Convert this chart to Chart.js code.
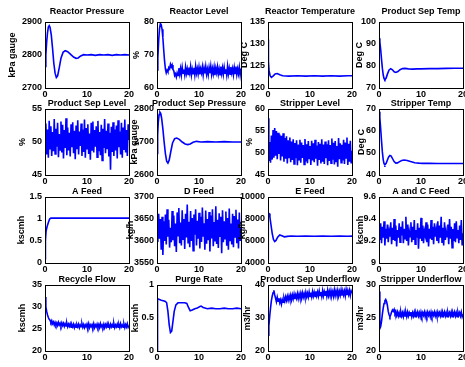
<!DOCTYPE html>
<html>
<head>
<meta charset="utf-8">
<script src="https://cdn.jsdelivr.net/npm/chart.js@4.4.1/dist/chart.umd.min.js"></script>
<style>
  body { margin: 0; background: #fff; overflow: hidden; }
  #wrap { position: relative; width: 465px; height: 367px; overflow: hidden; }
  #wrap canvas { position: absolute; left: 0; top: 0; }
</style>
</head>
<body>
<div id="wrap"></div>
<script>
// Eixo do tempo (h) e ticks
const xTicks = [0, 10, 20];
const tFine = Array.from({ length: 101 }, (_, i) => Math.round(i * 2) / 10); // grade de 0.2 h

// --- Linha 1 ---
const tReactorPressure = [0, 0.2, 0.4, 0.6, 0.8, 1.0, 1.2, 1.5, 1.8, 2.1, 2.4, 2.7, 3.0, 3.4, 3.8, 4.3, 4.8, 5.4, 6.1, 6.8,
  7.4, 7.9, 8.5, 9.2, 10, 11, 12, 13, 14, 15, 16, 17, 18, 19, 20];
const reactorPressure = [2765, 2800, 2840, 2868, 2885, 2889, 2884, 2860, 2820, 2775, 2745, 2732, 2737, 2762, 2790, 2808, 2813, 2810, 2802, 2794,
  2790, 2791, 2797, 2801, 2800, 2801, 2799, 2801, 2800, 2801, 2799, 2801, 2800, 2801, 2800];
const ticksReactorPressure = [2700, 2800, 2900];

const reactorLevel = [
  65.5, 69.0, 74.5, 78.0, 79.5, 79.2, 77.8, 75.2, 71.5, 68.2,
  65.8, 64.6, 65.4, 64.9, 66.2, 65.8, 67.2, 66.4, 67.0, 65.6,
  65.2, 63.8, 64.3, 63.3, 64.6, 63.8, 66.0, 64.2, 65.9, 63.9,
  66.3, 64.5, 65.6, 64.0, 66.4, 64.4, 65.8, 64.1, 66.2, 64.6,
  66.5, 63.9, 65.7, 64.3, 66.1, 64.0, 66.6, 64.5, 65.9, 64.2,
  66.3, 64.1, 65.8, 64.6, 66.4, 63.9, 66.0, 64.4, 66.5, 64.2,
  65.7, 64.0, 66.2, 64.5, 66.6, 64.1, 65.9, 64.3, 66.3, 63.9,
  66.0, 64.6, 66.4, 64.2, 65.8, 64.0, 66.5, 64.4, 66.1, 64.1,
  66.3, 64.5, 65.7, 63.9, 66.6, 64.3, 66.0, 64.2, 66.4, 64.6,
  65.9, 64.0, 66.2, 64.4, 66.5, 64.1, 65.8, 64.3, 66.3, 64.0,
  65.9];
const ticksReactorLevel = [60, 70, 80];

const tReactorTemp = [0, 0.1, 0.25, 0.5, 0.8, 1.2, 1.7, 2.2, 2.8, 3.5, 5, 7, 9, 11, 13, 15, 17, 19, 20];
const reactorTemp = [131, 126, 124, 122.8, 122.4, 122.7, 123.2, 123.3, 123.0, 122.8, 122.7, 122.8, 122.7, 122.8, 122.7, 122.8, 122.7, 122.8, 122.8];
const ticksReactorTemp = [120, 125, 130, 135];

const tSepTemp = [0, 0.2, 0.4, 0.6, 0.8, 1.0, 1.2, 1.4, 1.7, 2.0, 2.4, 2.8, 3.2, 3.6, 4.0, 4.5, 5.0, 5.6, 6.2, 7, 8, 9, 10, 12, 14, 16, 18, 20];
const sepTemp = [92.6, 91, 87.5, 83, 79, 76, 74.3, 73.8, 74.5, 76.3, 78.2, 78.8, 78.3, 77.4, 77.1, 77.5, 78.3, 78.8, 78.9, 78.7, 78.6, 78.7, 78.7, 78.8, 78.8, 78.9, 79, 79];
const ticksSepTemp = [70, 80, 90, 100];

// --- Linha 2 ---
const sepLevel = [
  50.4, 52.8, 48.1, 51.9, 47.6, 53.2, 49.0, 52.4, 47.9, 51.5,
  48.6, 53.5, 48.2, 52.0, 49.3, 52.9, 47.7, 51.2, 48.8, 53.1,
  48.4, 52.6, 47.5, 51.8, 49.1, 53.6, 48.0, 52.2, 48.7, 51.4,
  47.8, 52.7, 49.2, 53.0, 48.3, 51.7, 47.4, 52.5, 48.9, 53.3,
  48.1, 51.6, 49.4, 52.8, 47.9, 51.9, 48.5, 53.4, 47.6, 52.1,
  49.0, 52.7, 48.2, 51.3, 47.3, 52.9, 48.8, 53.1, 48.4, 51.8,
  49.3, 52.4, 47.7, 53.2, 48.6, 51.5, 48.0, 52.6, 47.2, 52.0,
  49.1, 53.5, 48.3, 51.7, 48.9, 52.8, 47.8, 51.4, 45.8, 52.3,
  48.5, 53.0, 47.9, 51.9, 48.7, 52.5, 47.5, 53.3, 49.2, 51.6,
  48.1, 52.9, 47.6, 52.2, 48.8, 53.4, 48.4, 51.8, 47.9, 52.7,
  50.3];
const ticksSepLevel = [45, 50, 55];

const tSepPressure = [0, 0.15, 0.3, 0.5, 0.7, 0.9, 1.1, 1.4, 1.7, 2.0, 2.3, 2.6, 2.9, 3.3, 3.7, 4.2, 4.7, 5.3, 6.0, 6.7,
  7.3, 7.9, 8.6, 9.4, 10.5, 12, 14, 16, 18, 20];
const sepPressure = [2665, 2720, 2760, 2783, 2790, 2786, 2772, 2740, 2700, 2665, 2642, 2636, 2645, 2672, 2697, 2710, 2712, 2708, 2700, 2694,
  2692, 2694, 2699, 2702, 2700, 2701, 2700, 2701, 2700, 2700];
const ticksSepPressure = [2600, 2700, 2800];

const stripLevel = [
  57.9, 48.2, 52.5, 47.8, 54.0, 48.5, 55.2, 48.9, 55.7, 49.4,
  55.0, 48.6, 54.6, 49.8, 54.2, 48.3, 53.9, 49.2, 54.5, 48.0,
  53.4, 48.7, 53.8, 47.6, 52.9, 49.0, 53.5, 47.9, 52.6, 48.4,
  53.1, 47.5, 52.3, 48.8, 52.9, 47.2, 51.9, 48.5, 53.0, 47.8,
  52.4, 48.9, 51.8, 47.4, 53.2, 48.1, 52.0, 47.7, 52.7, 48.6,
  51.6, 47.3, 52.8, 48.3, 52.2, 47.9, 53.0, 48.7, 51.7, 47.1,
  52.5, 48.4, 52.1, 47.6, 53.1, 48.0, 51.9, 47.5, 52.6, 48.8,
  52.0, 47.2, 52.9, 48.2, 51.8, 47.7, 53.3, 48.5, 52.3, 47.4,
  52.7, 48.1, 51.6, 46.9, 53.4, 48.6, 52.2, 47.8, 51.9, 48.3,
  53.0, 47.5, 52.4, 48.9, 53.5, 47.3, 52.1, 48.0, 52.8, 47.6,
  50.5];
const ticksStripLevel = [45, 50, 55, 60];

const tStripTemp = [0, 0.2, 0.4, 0.6, 0.8, 1.0, 1.2, 1.4, 1.7, 2.0, 2.3, 2.6, 2.9, 3.2, 3.6, 4.0, 4.4, 4.9, 5.4, 6.0,
  6.7, 7.5, 8.5, 9.5, 10.5, 12, 14, 16, 18, 20];
const stripTemp = [68.8, 66, 61, 55.5, 50.5, 47, 45.1, 44.6, 45.3, 46.8, 48.2, 48.9, 48.6, 47.5, 46.1, 45.4, 45.5, 46.1, 46.6, 46.8,
  46.6, 46.1, 45.6, 45.4, 45.3, 45.3, 45.2, 45.2, 45.2, 45.2];
const ticksStripTemp = [40, 50, 60, 70];

// --- Linha 3 ---
const tAFeed = [0, 0.1, 0.25, 0.5, 0.8, 1.1, 1.4, 2, 4, 8, 12, 16, 20];
const aFeed = [0.1, 0.5, 0.72, 0.83, 0.92, 1.0, 1.02, 1.02, 1.02, 1.02, 1.02, 1.02, 1.02];
const ticksAFeed = [0, 0.5, 1, 1.5];

const dFeed = [
  3640, 3598, 3662, 3605, 3650, 3580, 3655, 3568, 3645, 3600,
  3660, 3592, 3672, 3610, 3648, 3585, 3630, 3597, 3668, 3602,
  3658, 3588, 3640, 3575, 3665, 3612, 3675, 3595, 3642, 3590,
  3670, 3604, 3650, 3582, 3662, 3608, 3683, 3596, 3644, 3586,
  3668, 3600, 3652, 3578, 3660, 3614, 3672, 3590, 3646, 3605,
  3664, 3583, 3655, 3598, 3676, 3610, 3640, 3580, 3669, 3594,
  3650, 3602, 3666, 3576, 3658, 3606, 3672, 3588, 3643, 3599,
  3679, 3593, 3648, 3584, 3663, 3611, 3655, 3572, 3670, 3597,
  3645, 3605, 3667, 3589, 3652, 3580, 3674, 3601, 3640, 3592,
  3662, 3586, 3657, 3609, 3671, 3595, 3649, 3583, 3665, 3600,
  3630];
const ticksDFeed = [3550, 3600, 3650, 3700];

const tEFeed = [0, 0.03, 0.1, 0.25, 0.45, 0.7, 1.0, 1.3, 1.6, 1.9, 2.3, 2.8, 3.3, 3.9, 4.6, 5.5, 7, 9, 11, 13, 15, 17, 19, 20];
const eFeed = [4300, 7500, 8550, 8500, 8200, 7500, 6700, 6150, 5950, 6050, 6350, 6550, 6480, 6380, 6420, 6450, 6430, 6440, 6430, 6440, 6430, 6440, 6430, 6440];
const ticksEFeed = [4000, 6000, 8000, 10000];

const acFeed = [
  9.30, 9.21, 9.36, 9.18, 9.33, 9.23, 9.38, 9.16, 9.31, 9.22,
  9.35, 9.19, 9.29, 9.24, 9.37, 9.17, 9.32, 9.21, 9.40, 9.20,
  9.34, 9.15, 9.30, 9.23, 9.36, 9.19, 9.33, 9.25, 9.38, 9.18,
  9.31, 9.22, 9.42, 9.20, 9.35, 9.16, 9.29, 9.24, 9.37, 9.19,
  9.33, 9.21, 9.39, 9.17, 9.30, 9.23, 9.36, 9.13, 9.32, 9.22,
  9.41, 9.20, 9.34, 9.18, 9.29, 9.25, 9.37, 9.19, 9.35, 9.15,
  9.31, 9.22, 9.39, 9.21, 9.33, 9.17, 9.36, 9.24, 9.30, 9.20,
  9.38, 9.18, 9.34, 9.23, 9.42, 9.19, 9.32, 9.16, 9.37, 9.21,
  9.29, 9.24, 9.35, 9.17, 9.40, 9.22, 9.33, 9.14, 9.31, 9.20,
  9.36, 9.19, 9.38, 9.23, 9.30, 9.18, 9.34, 9.21, 9.39, 9.16,
  9.27];
const ticksACFeed = [9, 9.2, 9.4, 9.6];

// --- Linha 4 ---
const recycleFlow = [
  32.3, 30.0, 29.0, 28.2, 27.6, 27.2, 27.0, 26.5, 26.9, 26.2,
  26.6, 25.9, 26.5, 25.9, 26.4, 25.8, 26.5, 25.9, 26.3, 25.7,
  26.4, 25.8, 26.3, 25.6, 26.2, 25.7, 26.3, 25.5, 26.1, 25.6,
  26.2, 25.4, 26.0, 25.5, 26.1, 25.3, 25.9, 25.4, 26.0, 25.5,
  26.1, 25.3, 25.9, 25.5, 26.2, 25.4, 26.0, 25.3, 25.9, 25.5,
  26.1, 25.4, 26.2, 25.3, 25.9, 25.5, 26.0, 25.4, 26.2, 25.3,
  25.9, 25.5, 26.1, 25.4, 26.0, 25.3, 26.2, 25.5, 25.9, 25.4,
  26.1, 25.3, 26.0, 25.5, 26.2, 25.4, 25.9, 25.3, 26.1, 25.5,
  26.0, 25.4, 26.2, 25.3, 25.9, 25.5, 26.1, 25.4, 26.0, 25.3,
  26.2, 25.5, 25.9, 25.4, 26.1, 25.3, 26.0, 25.5, 26.2, 25.4,
  25.8];
const ticksRecycle = [20, 25, 30, 35];

const tPurge = [0, 0.05, 0.2, 0.6, 1.0, 1.5, 2.0, 2.3, 2.6, 2.9, 3.2, 3.5, 3.8, 4.1, 4.5, 5.0, 5.5, 6.0, 6.6, 7.1,
  7.5, 7.9, 8.4, 9.0, 9.6, 10.1, 10.5, 11.0, 12, 13, 14, 15, 16, 17, 18, 19, 20];
const purgeRate = [0.0, 0.78, 0.79, 0.78, 0.77, 0.76, 0.75, 0.73, 0.6, 0.4, 0.28, 0.3, 0.45, 0.6, 0.7, 0.73, 0.73, 0.73, 0.73, 0.72,
  0.66, 0.61, 0.62, 0.64, 0.65, 0.67, 0.68, 0.66, 0.64, 0.65, 0.64, 0.64, 0.65, 0.64, 0.64, 0.65, 0.64];
const ticksPurge = [0, 0.5, 1];

const sepUnderflow = [
  24.8, 27.5, 30.5, 33.0, 35.2, 36.6, 37.6, 38.4, 37.0, 36.0,
  34.9, 36.3, 35.1, 36.0, 34.6, 35.5, 34.2, 35.6, 34.8, 36.1,
  35.1, 36.4, 35.3, 36.6, 35.4, 36.7, 35.6, 36.9, 35.5, 37.0,
  35.8, 37.2, 35.7, 37.0, 36.0, 37.4, 35.9, 37.3, 36.1, 37.5,
  36.0, 37.6, 36.3, 37.4, 36.2, 37.8, 36.4, 37.5, 36.3, 37.9,
  36.5, 37.7, 36.4, 38.0, 36.6, 37.8, 36.5, 38.1, 36.7, 37.9,
  36.6, 38.2, 36.8, 37.9, 36.5, 38.3, 36.7, 38.0, 36.9, 38.2,
  36.6, 38.4, 36.8, 38.1, 36.7, 38.3, 36.9, 38.0, 36.6, 38.5,
  36.8, 38.2, 37.0, 38.4, 36.7, 38.1, 36.9, 38.5, 36.8, 38.3,
  37.0, 38.2, 36.7, 38.6, 36.9, 38.3, 37.1, 38.4, 36.8, 38.2,
  37.5];
const ticksSepUnder = [20, 30, 40];

const stripUnderflow = [
  29.0, 23.4, 23.7, 24.5, 25.6, 26.5, 27.2, 27.6, 27.8, 27.5,
  26.9, 26.0, 25.5, 25.2, 25.5, 25.9, 26.2, 26.0, 26.3, 25.7,
  26.0, 25.4, 25.9, 25.3, 25.8, 25.2, 25.9, 25.3, 25.8, 25.2,
  25.9, 25.3, 25.8, 25.2, 25.9, 25.3, 25.8, 25.4, 25.9, 25.2,
  25.8, 25.3, 25.9, 25.2, 25.8, 25.4, 25.9, 25.3, 25.8, 25.2,
  25.9, 25.3, 25.8, 25.4, 25.9, 25.2, 25.8, 25.3, 25.9, 25.4,
  25.8, 25.2, 25.9, 25.3, 25.8, 25.4, 25.9, 25.3, 25.8, 25.2,
  25.9, 25.4, 25.8, 25.3, 25.9, 25.2, 25.8, 25.4, 25.9, 25.3,
  25.8, 25.2, 25.9, 25.4, 25.8, 25.3, 25.9, 25.2, 25.8, 25.4,
  25.9, 25.3, 25.8, 25.2, 25.9, 25.4, 25.8, 25.3, 25.9, 25.2,
  25.6];
const ticksStripUnder = [20, 25, 30];

// Paineis na ordem da grade 4x4
const panels = [
  { title: 'Reactor Pressure', unit: 'kPa gauge', t: tReactorPressure, y: reactorPressure, ticks: ticksReactorPressure },
  { title: 'Reactor Level', unit: '%', t: tFine, y: reactorLevel, ticks: ticksReactorLevel },
  { title: 'Reactor Temperature', unit: 'Deg C', t: tReactorTemp, y: reactorTemp, ticks: ticksReactorTemp },
  { title: 'Product Sep Temp', unit: 'Deg C', t: tSepTemp, y: sepTemp, ticks: ticksSepTemp },
  { title: 'Product Sep Level', unit: '%', t: tFine, y: sepLevel, ticks: ticksSepLevel },
  { title: 'Product Sep Pressure', unit: 'kPa gauge', t: tSepPressure, y: sepPressure, ticks: ticksSepPressure },
  { title: 'Stripper Level', unit: '%', t: tFine, y: stripLevel, ticks: ticksStripLevel },
  { title: 'Stripper Temp', unit: 'Deg C', t: tStripTemp, y: stripTemp, ticks: ticksStripTemp },
  { title: 'A Feed', unit: 'kscmh', t: tAFeed, y: aFeed, ticks: ticksAFeed },
  { title: 'D Feed', unit: 'kg/h', t: tFine, y: dFeed, ticks: ticksDFeed },
  { title: 'E Feed', unit: 'kg/h', t: tEFeed, y: eFeed, ticks: ticksEFeed },
  { title: 'A and C Feed', unit: 'kscmh', t: tFine, y: acFeed, ticks: ticksACFeed },
  { title: 'Recycle Flow', unit: 'kscmh', t: tFine, y: recycleFlow, ticks: ticksRecycle },
  { title: 'Purge Rate', unit: 'kscmh', t: tPurge, y: purgeRate, ticks: ticksPurge },
  { title: 'Product Sep Underflow', unit: 'm3/hr', t: tFine, y: sepUnderflow, ticks: ticksSepUnder },
  { title: 'Stripper Underflow', unit: 'm3/hr', t: tFine, y: stripUnderflow, ticks: ticksStripUnder }
];

// Geometria da grade (px)
const colLeft = [45, 157, 268, 379];
const colRight = [129, 241, 352, 463];
const rowTop = [22, 109, 197, 285];
const rowBottom = [88, 175, 263, 351];
const titleGap = [10, 5, 5, 5];
const unitX = [[13, 137, 245, 360], [23, 135, 250, 362], [22, 131, 243, 361], [23, 136, 248, 361]];

const CW = 480, CH = 380, YW = 40, XH = 16;
const FONT = { family: 'Liberation Sans, Arial, sans-serif', size: 9, weight: 'bold', lineHeight: 1 };
Chart.defaults.color = '#000';

// Moldura preta em volta da area do grafico
const boxPlugin = {
  id: 'box',
  afterDatasetsDraw(chart) {
    const { ctx, chartArea: a } = chart;
    ctx.save();
    ctx.strokeStyle = '#000';
    ctx.lineWidth = 1;
    ctx.strokeRect(Math.round(a.left) + 0.5, Math.round(a.top) + 0.5, Math.round(a.right - a.left), Math.round(a.bottom - a.top));
    ctx.restore();
  }
};

// Titulo centrado sobre o painel, sem encolher quando passa da largura (como no MATLAB)
const titlePlugin = {
  id: 'panelTitle',
  afterDraw(chart, args, opts) {
    const { ctx, chartArea: a } = chart;
    ctx.save();
    ctx.font = `${FONT.weight} ${FONT.size}px ${FONT.family}`;
    ctx.fillStyle = '#000';
    ctx.textAlign = 'center';
    ctx.textBaseline = 'middle';
    ctx.fillText(opts.text, (a.left + a.right) / 2, a.top - opts.gap);
    ctx.restore();
  }
};

const wrap = document.getElementById('wrap');

panels.forEach((p, k) => {
  const r = Math.floor(k / 4), c = k % 4;
  const L = colLeft[c], R = colRight[c], T = rowTop[r], B = rowBottom[r];

  const canvas = document.createElement('canvas');
  canvas.width = CW;
  canvas.height = CH;
  wrap.appendChild(canvas);

  const points = p.y.map((v, i) => ({ x: p.t[i], y: v }));

  new Chart(canvas, {
    type: 'line',
    data: {
      datasets: [{
        data: points,
        borderColor: '#0000ff',
        borderWidth: 1.6,
        pointRadius: 0,
        tension: 0
      }]
    },
    options: {
      responsive: false,
      animation: false,
      devicePixelRatio: 1,
      layout: {
        padding: { left: L - YW, right: CW - R, top: T, bottom: CH - B - XH }
      },
      plugins: {
        legend: { display: false },
        tooltip: { enabled: false },
        title: { display: false },
        panelTitle: { text: p.title, gap: titleGap[r] }
      },
      scales: {
        x: {
          type: 'linear',
          min: 0,
          max: 20,
          afterBuildTicks: s => { s.ticks = xTicks.map(v => ({ value: v })); },
          afterFit: s => { s.height = XH; },
          grid: { display: false, drawTicks: false },
          border: { display: false },
          ticks: { font: FONT, color: '#000', padding: 2.5, maxRotation: 0, autoSkip: false, callback: v => String(v) }
        },
        y: {
          type: 'linear',
          min: p.ticks[0],
          max: p.ticks[p.ticks.length - 1],
          afterBuildTicks: s => { s.ticks = p.ticks.map(v => ({ value: v })); },
          afterFit: s => { s.width = YW; },
          grid: { display: false, drawTicks: false },
          border: { display: false },
          ticks: { font: FONT, color: '#000', padding: 3, autoSkip: false, callback: v => String(v) },
          title: {
            display: true,
            text: p.unit,
            color: '#000',
            font: FONT,
            padding: { top: unitX[r][c] - (L - YW) - FONT.size / 2, bottom: 0 }
          }
        }
      }
    },
    plugins: [boxPlugin, titlePlugin]
  });
});
</script>
</body>
</html>
